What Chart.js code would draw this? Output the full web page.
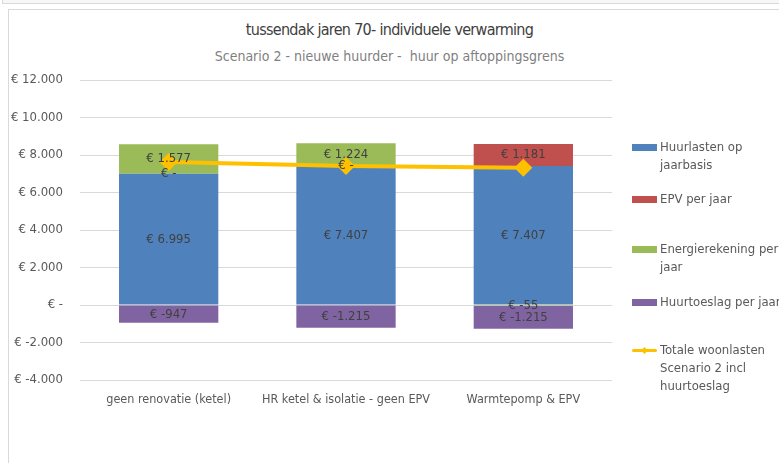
<!DOCTYPE html>
<html lang="nl">
<head>
<meta charset="UTF-8">
<title>tussendak jaren 70- individuele verwarming</title>
<script src="https://cdn.jsdelivr.net/npm/chart.js@4.4.1/dist/chart.umd.min.js"></script>
<style>
    html, body { margin: 0; padding: 0; background: #fff; overflow: hidden; }
    body { width: 779px; height: 463px; position: relative; font-family: "DejaVu Sans Condensed", "Liberation Sans Narrow", sans-serif; }
    #prev-frame { position: absolute; left: 2px; top: -10px; width: 800px; height: 12px; border: 1px solid #d9d9d9; background: #f7f7f7; }
    #frame { position: absolute; left: 8px; top: 9px; width: 800px; height: 480px; border: 1px solid #d9d9d9; }
    #chart-container { position: absolute; left: 0; top: 0; width: 779px; height: 463px; }
    .title { position: absolute; left: 0; width: 779px; text-align: center; }
    #titel { top: 20px; font-size: 16px; letter-spacing: -0.7px; color: #404040; }
    #subtitel { top: 48px; font-size: 14px; color: #7f7f7f; }
    #legend { position: absolute; left: 632px; top: 0; font-size: 13px; color: #595959; line-height: 18px; }
    .item { position: absolute; left: 0; width: 150px; }
    .item .sw { position: absolute; left: 0; top: 6px; width: 25px; height: 7px; }
    .item .txt { position: absolute; left: 28px; top: 0; white-space: nowrap; }
    .item .ln { position: absolute; left: 0; top: 8px; width: 25px; height: 3px; background: #FFC000; border-radius: 2px; }
    .item .dm { position: absolute; left: 10px; top: 7px; width: 5px; height: 5px; background: #FFC000; transform: rotate(45deg); }
</style>
</head>
<body>
<div id="prev-frame"></div>
<div id="frame"></div>
<div class="title" id="titel">tussendak jaren 70- individuele verwarming</div>
<div class="title" id="subtitel">Scenario 2 - nieuwe huurder -&nbsp; huur op aftoppingsgrens</div>
<div id="chart-container"><canvas id="myChart"></canvas></div>
<div id="legend"></div>

<script>
    // categorieen en reeksen (bedragen per jaar)
    let categorieen = ['geen renovatie (ketel)', 'HR ketel & isolatie - geen EPV', 'Warmtepomp & EPV'];
    let huurlasten = [6995, 7407, 7407];
    let epv = [0, 0, 1181];
    let energierekening = [1577, 1224, -55];
    let huurtoeslag = [-947, -1215, -1215];
    let totaal = [7625, 7416, 7318];

    let yTicks = { min: -4000, max: 12000, step: 2000 };

    let kleuren = {
        huur: '#4F81BD',
        epv: '#C0504D',
        energie: '#9BBB59',
        toeslag: '#8064A2',
        totaal: '#FFC000'
    };

    let fontFamily = '"DejaVu Sans Condensed", "Liberation Sans Narrow", sans-serif';

    function euro(v) {
        if (v === 0) return '€ -';
        let s = Math.abs(v).toString().replace(/\B(?=(\d{3})+(?!\d))/g, '.');
        return '€ ' + (v < 0 ? '-' : '') + s;
    }

    // waarden midden in elke balk
    const barLabels = {
        id: 'barLabels',
        afterDatasetsDraw(chart) {
            const ctx = chart.ctx;
            ctx.save();
            ctx.font = '13px ' + fontFamily;
            ctx.fillStyle = '#404040';
            ctx.textAlign = 'center';
            ctx.textBaseline = 'middle';
            chart.data.datasets.forEach(function (ds, i) {
                if (ds.type === 'line') return;
                const meta = chart.getDatasetMeta(i);
                meta.data.forEach(function (bar, j) {
                    const p = bar.getCenterPoint();
                    ctx.fillText(euro(ds.data[j]), p.x, p.y);
                });
            });
            ctx.restore();
        }
    };

    const barOpts = { stack: 'kosten', order: 1, borderWidth: 0 };

    let config = {
        type: 'bar',
        data: {
            labels: categorieen,
            datasets: [
                Object.assign({ label: 'Huurlasten op jaarbasis', data: huurlasten, backgroundColor: kleuren.huur }, barOpts),
                Object.assign({ label: 'EPV per jaar', data: epv, backgroundColor: kleuren.epv }, barOpts),
                Object.assign({ label: 'Energierekening per jaar', data: energierekening, backgroundColor: kleuren.energie }, barOpts),
                Object.assign({ label: 'Huurtoeslag per jaar', data: huurtoeslag, backgroundColor: kleuren.toeslag }, barOpts),
                {
                    type: 'line',
                    label: 'Totale woonlasten Scenario 2 incl huurtoeslag',
                    data: totaal,
                    stack: 'totaal',
                    order: 0,
                    borderColor: kleuren.totaal,
                    backgroundColor: kleuren.totaal,
                    borderWidth: 4,
                    pointStyle: 'rectRot',
                    pointRadius: 9,
                    pointBorderWidth: 0,
                    tension: 0
                }
            ]
        },
        options: {
            responsive: false,
            animation: false,
            layout: { padding: { left: 8, top: 80, right: 167, bottom: 53 } },
            datasets: { bar: { categoryPercentage: 1, barPercentage: 0.56 } },
            plugins: {
                legend: { display: false },
                tooltip: { enabled: false }
            },
            scales: {
                x: {
                    stacked: true,
                    grid: { display: false },
                    border: { display: false },
                    ticks: {
                        color: '#595959',
                        font: { family: fontFamily, size: 12.5 },
                        padding: 4,
                        maxRotation: 0,
                        minRotation: 0,
                        autoSkip: false
                    },
                    afterFit: function (scale) { scale.height = 30; }
                },
                y: {
                    stacked: true,
                    min: yTicks.min,
                    max: yTicks.max,
                    grid: { color: '#d9d9d9', drawTicks: false },
                    border: { display: false },
                    ticks: {
                        stepSize: yTicks.step,
                        color: '#595959',
                        font: { family: fontFamily, size: 13 },
                        padding: 17,
                        callback: function (v) { return euro(v); }
                    },
                    afterFit: function (scale) { scale.width = 72; }
                }
            }
        },
        plugins: [barLabels]
    };

    // legenda rechts, met afgebroken tekst
    let legendItems = [
        { top: 138, kleur: kleuren.huur, tekst: ['Huurlasten op', 'jaarbasis'] },
        { top: 190, kleur: kleuren.epv, tekst: ['EPV per jaar'] },
        { top: 240, kleur: kleuren.energie, tekst: ['Energierekening per', 'jaar'] },
        { top: 293, kleur: kleuren.toeslag, tekst: ['Huurtoeslag per jaar'] },
        { top: 341, lijn: true, tekst: ['Totale woonlasten', 'Scenario 2 incl', 'huurtoeslag'] }
    ];

    function buildLegend() {
        let el = document.getElementById('legend');
        legendItems.forEach(function (it) {
            let d = document.createElement('div');
            d.className = 'item';
            d.style.top = it.top + 'px';
            if (it.lijn) {
                d.innerHTML = '<div class="ln"></div><div class="dm"></div>';
            } else {
                d.innerHTML = '<div class="sw" style="background:' + it.kleur + '"></div>';
            }
            let t = document.createElement('div');
            t.className = 'txt';
            t.innerHTML = it.tekst.join('<br>');
            d.appendChild(t);
            el.appendChild(d);
        });
    }

    window.onload = function () {
        let canvas = document.getElementById('myChart');
        canvas.width = 779;
        canvas.height = 463;
        new Chart(canvas, config);
        buildLegend();
    };
</script>
</body>
</html>
